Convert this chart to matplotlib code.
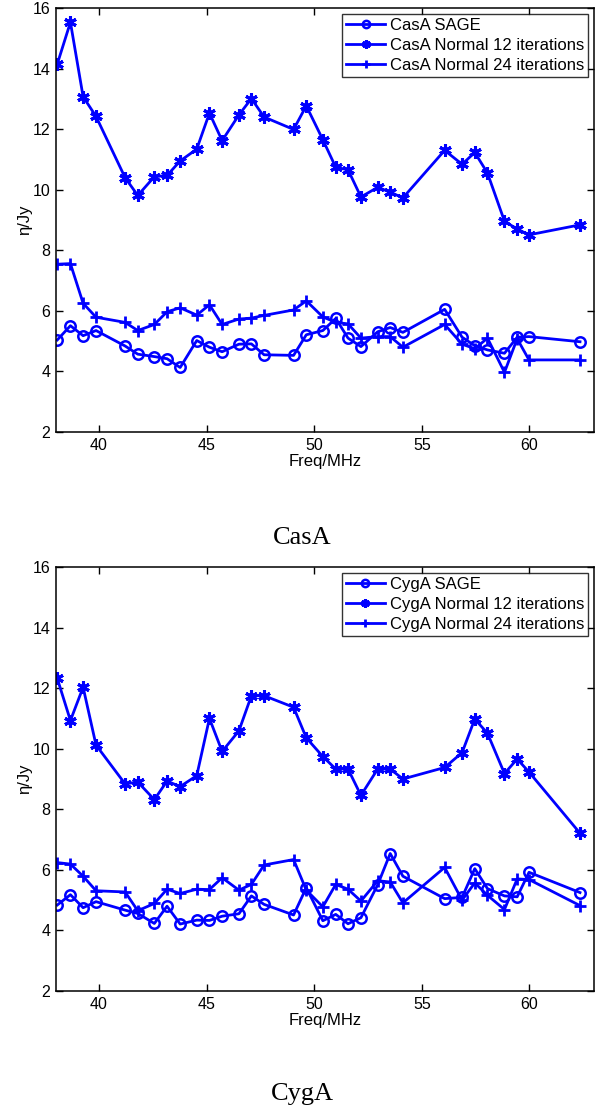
import matplotlib
matplotlib.use("Agg")
import matplotlib.pyplot as plt

plt.rcParams["font.family"] = ["Liberation Sans", "DejaVu Sans"]

# Frequencies (MHz), shared by all series
freq = [38.06, 38.67, 39.26, 39.86, 41.21, 41.80, 42.57, 43.16, 43.77, 44.54,
        45.13, 45.72, 46.50, 47.08, 47.67, 49.04, 49.63, 50.40, 51.00, 51.57,
        52.17, 52.95, 53.53, 54.12, 56.06, 56.87, 57.46, 58.05, 58.84, 59.43,
        59.98, 62.35]

casa_sage = [5.04, 5.51, 5.18, 5.35, 4.84, 4.57, 4.49, 4.42, 4.13, 5.02,
             4.80, 4.65, 4.90, 4.91, 4.55, 4.53, 5.21, 5.35, 5.75, 5.10,
             4.82, 5.31, 5.45, 5.29, 6.05, 5.13, 4.85, 4.71, 4.60, 5.13,
             5.15, 4.98]
casa_n12 = [14.15, 15.53, 13.07, 12.42, 10.40, 9.81, 10.43, 10.47, 10.95, 11.34,
            12.53, 11.62, 12.47, 13.01, 12.40, 11.99, 12.77, 11.65, 10.74, 10.66,
            9.76, 10.08, 9.92, 9.73, 11.30, 10.84, 11.23, 10.55, 8.96, 8.70,
            8.51, 8.84]
casa_n24 = [7.54, 7.56, 6.25, 5.79, 5.62, 5.35, 5.55, 5.97, 6.10, 5.86,
            6.20, 5.55, 5.73, 5.76, 5.85, 6.03, 6.33, 5.80, 5.62, 5.57,
            5.10, 5.15, 5.15, 4.80, 5.55, 4.90, 4.75, 5.10, 3.97, 5.08,
            4.38, 4.38]

cyga_sage = [4.84, 5.18, 4.75, 4.95, 4.67, 4.56, 4.23, 4.80, 4.21, 4.34,
             4.33, 4.47, 4.55, 5.14, 4.86, 4.51, 5.41, 4.32, 4.53, 4.22,
             4.42, 5.51, 6.54, 5.79, 5.05, 5.09, 6.04, 5.38, 5.14, 5.11,
             5.92, 5.25]
cyga_n12 = [12.32, 10.93, 12.03, 10.12, 8.84, 8.90, 8.32, 8.93, 8.75, 9.11,
            11.00, 9.91, 10.59, 11.75, 11.75, 11.37, 10.36, 9.74, 9.33, 9.33,
            8.46, 9.33, 9.33, 9.00, 9.38, 9.87, 10.98, 10.51, 9.18, 9.66,
            9.23, 7.21]
cyga_n24 = [6.24, 6.19, 5.79, 5.31, 5.27, 4.65, 4.89, 5.36, 5.22, 5.36,
            5.35, 5.74, 5.33, 5.52, 6.16, 6.34, 5.33, 4.78, 5.52, 5.36,
            4.97, 5.64, 5.60, 4.91, 6.08, 5.00, 5.57, 5.16, 4.69, 5.70,
            5.68, 4.82]

panels = [
    ("CasA", casa_sage, casa_n12, casa_n24),
    ("CygA", cyga_sage, cyga_n12, cyga_n24),
]

W, H = 604, 1113
fig = plt.figure(figsize=(W / 100, H / 100), dpi=100)

# axes boxes in pixels: (left, top, right, bottom)
boxes = [(56, 8, 594, 432), (56, 567, 594, 991)]
caption_y = [538, 1094]

blue = (0, 0, 1)
for (name, sage, n12, n24), (l, t, r, b), cy in zip(panels, boxes, caption_y):
    ax = fig.add_axes((l / W, 1 - b / H, (r - l) / W, (b - t) / H))
    ax.plot(freq, sage, color=blue, lw=2, marker="o", ms=7.5, mfc="none",
            mew=1.8, label=f"{name} SAGE")
    ax.plot(freq, n12, color=blue, lw=2, marker=(6, 2, 0), ms=9,
            mew=2.2, label=f"{name} Normal 12 iterations")
    ax.plot(freq, n24, color=blue, lw=2, marker="+", ms=9,
            mew=2, label=f"{name} Normal 24 iterations")

    ax.set_xlim(38, 63)
    ax.set_ylim(2, 16)
    ax.set_xticks([40, 45, 50, 55, 60])
    ax.set_yticks(range(2, 17, 2))
    ax.tick_params(direction="in", top=True, right=True, length=5,
                   width=1, labelsize=11.5, pad=4)
    for s in ax.spines.values():
        s.set_linewidth(1.1)
    ax.set_xlabel("Freq/MHz", fontsize=12, labelpad=1)
    ax.set_ylabel("η/Jy", fontsize=12)
    ax.yaxis.set_label_coords(-0.045, 0.5)

    leg = ax.legend(loc="upper right", fontsize=12, frameon=True, fancybox=False,
                    borderaxespad=0.35, handlelength=2.3, labelspacing=0.3,
                    borderpad=0.25, handletextpad=0.3, markerscale=0.7)
    leg.get_frame().set_edgecolor("black")
    leg.get_frame().set_linewidth(1.0)

    fig.text(0.5, 1 - cy / H, name, ha="center", va="center",
             fontsize=19, family=["Liberation Serif", "DejaVu Serif"])

fig.savefig("out.png", dpi=100)
